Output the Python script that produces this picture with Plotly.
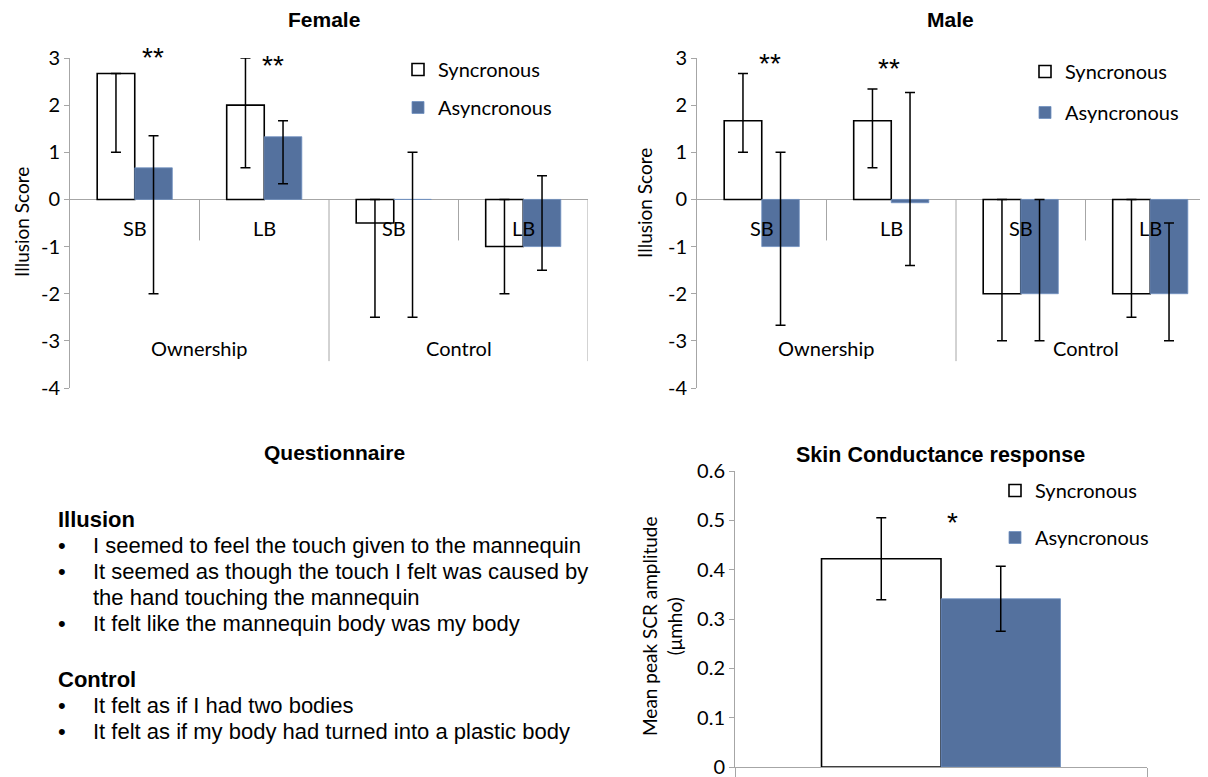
import plotly.graph_objects as go

# ---------------- data ----------------
sub_labels = ["SB", "LB", "SB", "LB"]
group_labels = ["Ownership", "Control"]
series_names = ["Syncronous", "Asyncronous"]

female_sync = [2.67, 2.0, -0.5, -1.0]
female_sync_plus = [0.0, 1.0, 0.5, 1.0]
female_sync_minus = [1.67, 1.33, 2.0, 1.0]
female_async = [0.67, 1.33, 0.0, -1.0]
female_async_plus = [0.68, 0.34, 1.0, 1.5]
female_async_minus = [2.67, 1.0, 2.5, 0.5]

male_sync = [1.67, 1.67, -2.0, -2.0]
male_sync_plus = [1.0, 0.67, 2.0, 2.0]
male_sync_minus = [0.67, 1.0, 1.0, 0.5]
male_async = [-1.0, -0.07, -2.0, -2.0]
male_async_plus = [2.0, 2.34, 2.0, 1.5]
male_async_minus = [1.67, 1.33, 1.0, 1.0]

scr_sync = [0.422]
scr_sync_err = [0.083]
scr_async = [0.341]
scr_async_err = [0.066]

illusion_ticks = [-4, -3, -2, -1, 0, 1, 2, 3]
illusion_ticktext = ["-4", "-3", "-2", "-1", "0", "1", "2", "3"]
scr_ticks = [0, 0.1, 0.2, 0.3, 0.4, 0.5, 0.6]
scr_ticktext = ["0", "0.1", "0.2", "0.3", "0.4", "0.5", "0.6"]

female_sig = [(0, "**"), (1, "**")]
male_sig = [(0, "**"), (1, "**")]
scr_sig = "*"

questionnaire_title = "Questionnaire"
illusion_items = [
    "I seemed to feel the touch given to the mannequin",
    "It seemed as though the touch I felt was caused by",
    "the hand touching the mannequin",
    "It felt like the mannequin body was my body",
]
illusion_bullets = [True, True, False, True]
control_items = [
    "It felt as if I had two bodies",
    "It felt as if my body had turned into a plastic body",
]

# ---------------- style ----------------
W, H = 1208, 777
OFF = 8  # page body margin
BLUE = "#54719E"
GRAY = "#A6A6A6"
CHART_FONT = "Lato, Open Sans, sans-serif"
TEXT_FONT = "Liberation Sans, Arial, sans-serif"
STAR_FONT = "Liberation Sans, Arial, sans-serif"


def px_x(p):
    return (p - OFF) / W


def px_y(p):
    return 1 - (p - OFF) / H


x_pos = list(range(len(sub_labels)))

fig = go.Figure()


def add_pair(xa, ya, leg, sync, sp, sm, asy, ap, am, x):
    fig.add_trace(go.Bar(
        x=x, y=sync, name=series_names[0], xaxis=xa, yaxis=ya, legend=leg,
        legendgroup=leg + "s",
        marker=dict(color="white", line=dict(color="black", width=1.6)),
        error_y=dict(type="data", symmetric=False, array=sp, arrayminus=sm,
                     color="black", thickness=1.5, width=5),
    ))
    fig.add_trace(go.Bar(
        x=x, y=asy, name=series_names[1], xaxis=xa, yaxis=ya, legend=leg,
        legendgroup=leg + "a",
        marker=dict(color=BLUE, line=dict(color="#7090C0", width=0.8)),
        error_y=dict(type="data", symmetric=False, array=ap, arrayminus=am,
                     color="black", thickness=1.5, width=5),
    ))


add_pair("x", "y", "legend", female_sync, female_sync_plus, female_sync_minus,
         female_async, female_async_plus, female_async_minus, x_pos)
add_pair("x2", "y2", "legend2", male_sync, male_sync_plus, male_sync_minus,
         male_async, male_async_plus, male_async_minus, x_pos)
add_pair("x3", "y3", "legend3", scr_sync, scr_sync_err, scr_sync_err,
         scr_async, scr_async_err, scr_async_err, [0])

yaxis_common = dict(
    range=[-4, 3], tickmode="array", tickvals=illusion_ticks,
    ticktext=illusion_ticktext, showgrid=False, showline=True, linecolor=GRAY,
    linewidth=1, ticks="outside", ticklen=5, tickcolor=GRAY,
    zeroline=True, zerolinecolor=GRAY, zerolinewidth=1,
    tickfont=dict(family=CHART_FONT, size=20, color="black"),
    automargin=False,
)
xaxis_common = dict(showgrid=False, zeroline=False, showticklabels=False,
                    showline=False, ticks="", automargin=False)

fig.update_layout(
    width=W, height=H, margin=dict(l=0, r=0, t=0, b=0),
    paper_bgcolor="white", plot_bgcolor="rgba(0,0,0,0)",
    barmode="group", bargap=0.42, bargroupgap=0,
    xaxis=dict(domain=[px_x(70), px_x(588)], range=[-0.5, 3.5], anchor="y", **xaxis_common),
    yaxis=dict(domain=[px_y(388), px_y(58)], anchor="x", **yaxis_common),
    xaxis2=dict(domain=[px_x(697), px_x(1215)], range=[-0.5, 3.5],
                anchor="y2", **xaxis_common),
    yaxis2=dict(domain=[px_y(388), px_y(58)], anchor="x2", **yaxis_common),
    xaxis3=dict(domain=[px_x(735), px_x(1147)], range=[-0.5, 0.5], anchor="y3",
                showgrid=False, zeroline=False, showticklabels=False,
                showline=True, linecolor=GRAY, linewidth=1,
                tickmode="array", tickvals=[-0.5, 0.5], ticks="outside",
                ticklen=10, tickcolor=GRAY, automargin=False),
    yaxis3=dict(domain=[px_y(767), px_y(471)], range=[0, 0.6],
                tickmode="array", tickvals=scr_ticks, ticktext=scr_ticktext,
                anchor="x3", showgrid=False, showline=True,
                linecolor=GRAY, linewidth=1, ticks="outside", ticklen=5,
                tickcolor=GRAY, zeroline=False,
                tickfont=dict(family=CHART_FONT, size=20, color="black"),
                automargin=False),
    showlegend=True,
)

leg_common = dict(bgcolor="rgba(0,0,0,0)", borderwidth=0,
                  font=dict(family=CHART_FONT, size=20, color="black"),
                  xanchor="left", yanchor="top", orientation="v",
                  itemwidth=30)
fig.update_layout(
    legend=dict(x=px_x(398), y=px_y(50), tracegroupgap=9, **leg_common),
    legend2=dict(x=px_x(1025), y=px_y(52), tracegroupgap=12, **leg_common),
    legend3=dict(x=px_x(995), y=px_y(471), tracegroupgap=18, **leg_common),
)

shapes = []
annotations = []


def cat_axis_decor(xr, yr):
    n = len(sub_labels)
    for i in range(n):
        b = i + 0.5
        long_div = (i % 2 == 1)
        shapes.append(dict(type="line", xref=xr, yref=yr, x0=b, x1=b,
                           y0=0, y1=(-3.43 if long_div else -0.87),
                           line=dict(color=GRAY, width=1)))
    for i, lab in enumerate(sub_labels):
        annotations.append(dict(xref=xr, yref=yr, x=i, y=-0.6, text=lab,
                                showarrow=False,
                                font=dict(family=CHART_FONT, size=20, color="black")))
    for g, lab in enumerate(group_labels):
        annotations.append(dict(xref=xr, yref=yr, x=2 * g + 0.5, y=-3.15, text=lab,
                                showarrow=False,
                                font=dict(family=CHART_FONT, size=20, color="black")))


cat_axis_decor("x", "y")
cat_axis_decor("x2", "y2")

# significance markers (anchored inside the axis range, nudged with yshift)
for i, s in female_sig:
    annotations.append(dict(xref="x", yref="y", x=i + (0.14 if i == 0 else 0.07),
                            y=2.84, yshift=(8 if i == 0 else 0), text=s,
                            showarrow=False,
                            font=dict(family=STAR_FONT, size=28, color="black")))
for i, s in male_sig:
    annotations.append(dict(xref="x2", yref="y2", x=i + (0.06 if i == 0 else -0.02),
                            y=(2.88 if i == 0 else 2.78), text=s, showarrow=False,
                            font=dict(family=STAR_FONT, size=28, color="black")))
annotations.append(dict(xref="x3", yref="y3", x=0.027, y=0.495, text=scr_sig,
                        showarrow=False,
                        font=dict(family=STAR_FONT, size=28, color="black")))


def title(text, x, y, size=21):
    annotations.append(dict(xref="paper", yref="paper", x=px_x(x), y=px_y(y),
                            text="<b>%s</b>" % text, showarrow=False,
                            xanchor="center", yanchor="middle",
                            font=dict(family=TEXT_FONT, size=size, color="black")))


title("Female", 324, 19)
title("Male", 950, 20)
title("Skin Conductance response", 940, 455, size=21.5)
title(questionnaire_title, 334, 452)


def ytitle(text, x, y, size=19):
    annotations.append(dict(xref="paper", yref="paper", x=px_x(x), y=px_y(y),
                            text=text, textangle=-90, showarrow=False,
                            xanchor="center", yanchor="middle",
                            font=dict(family=CHART_FONT, size=size, color="black")))


ytitle("Illusion Score", 21, 222)
ytitle("Illusion Score", 645, 203)
ytitle("Mean peak SCR amplitude<br>(μmho)", 662, 626)


def qline(text, x, y, bold=False):
    annotations.append(dict(xref="paper", yref="paper", x=px_x(x), y=px_y(y),
                            text=("<b>%s</b>" % text) if bold else text,
                            showarrow=False, xanchor="left", yanchor="middle",
                            font=dict(family=TEXT_FONT, size=22, color="black")))


qline("Illusion", 56, 519, bold=True)
ys = [545, 571, 597, 623]
for t, b, yy in zip(illusion_items, illusion_bullets, ys):
    if b:
        qline("•", 56, yy)
    qline(t, 91, yy)
qline("Control", 56, 679, bold=True)
for t, yy in zip(control_items, [705, 731]):
    qline("•", 56, yy)
    qline(t, 91, yy)

fig.update_layout(shapes=shapes, annotations=annotations)
fig.write_html("out.html")
